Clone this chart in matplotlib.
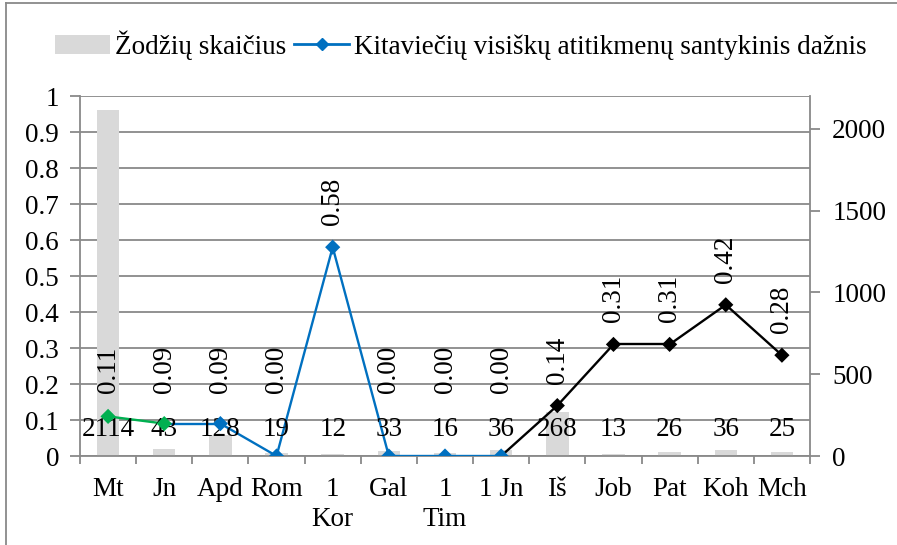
import numpy as np
import matplotlib
matplotlib.use("Agg")
import matplotlib.pyplot as plt
from matplotlib.patches import Patch
from matplotlib.lines import Line2D

plt.rcParams['font.family'] = ['Liberation Serif', 'DejaVu Serif']

knygos = ["Mt", "Jn", "Apd", "Rom", "1\nKor", "Gal", "1\nTim", "1 Jn", "Iš", "Job", "Pat", "Koh", "Mch"]
zodziu_sk = [2114, 43, 128, 19, 12, 33, 16, 36, 268, 13, 26, 36, 25]
daznis = [0.11, 0.09, 0.09, 0.00, 0.58, 0.00, 0.00, 0.00, 0.14, 0.31, 0.31, 0.42, 0.28]
# taško spalva (atkarpa į tašką gauna to taško spalvą)
tasku_spalvos = ["#00B050", "#00B050"] + ["#0070C0"] * 6 + ["black"] * 5

FS = 19.5
GRID = "#898989"

fig = plt.figure(figsize=(8.97, 5.45), dpi=100)
ax = fig.add_axes([80/897, (545-456)/545, 730/897, 360/545])
ax2 = ax.twinx()
ax.set_zorder(ax2.get_zorder() + 1)
ax.patch.set_visible(False)

x = np.arange(len(knygos))

# stulpeliai (dešinė ašis)
ax2.bar(x, zodziu_sk, width=0.4, color="#D9D9D9", zorder=2)
ax2.set_ylim(0, 2200)
ax2.set_yticks(np.arange(0, 2001, 500))

# tinklelis po stulpeliais
kairiosios = np.round(np.arange(0, 1.01, 0.1), 1)
ax2.hlines(kairiosios, 0, 1, transform=ax.get_yaxis_transform(), colors=GRID, lw=1.3, zorder=0)

# linija (kairė ašis)
for i in range(len(x) - 1):
    ax.plot(x[i:i+2], daznis[i:i+2], color=tasku_spalvos[i+1], lw=1.7, zorder=3)
ax.scatter(x, daznis, marker="D", s=60, c=tasku_spalvos, zorder=4, linewidths=0)

ax.set_ylim(0, 1)
ax.set_xlim(-0.5, len(x) - 0.5)
ax.set_yticks(kairiosios)
ax.set_yticklabels(["0" if v == 0 else ("1" if v == 1 else f"{v:g}") for v in kairiosios])

for i, v in enumerate(daznis):
    ax.annotate(f"{v:.2f}", xy=(i, max(v, 0.115)), xytext=(0, 22), textcoords="offset pixels",
                rotation=90, ha="center", va="bottom", fontsize=FS)
for i, n in enumerate(zodziu_sk):
    ax.annotate(str(n), xy=(i, 0), xytext=(0, 26), textcoords="offset pixels",
                ha="center", va="center", fontsize=FS)

ax.set_xticks(x)
ax.set_xticklabels(knygos, fontsize=FS, linespacing=1.25)
ax.set_xticks(np.arange(-0.5, len(x)), minor=True)
ax.tick_params(axis="x", which="major", length=0, pad=15)
ax.tick_params(axis="x", which="minor", length=6, width=1.3, color=GRID, direction="out")
ax.tick_params(axis="y", labelsize=FS, length=7, width=1.3, color=GRID, pad=8)
ax2.tick_params(axis="y", labelsize=FS, length=7, width=1.3, color=GRID, pad=9)

for a in (ax, ax2):
    for s in a.spines.values():
        s.set_visible(False)
for a, side in ((ax, "left"), (ax, "bottom"), (ax2, "right")):
    a.spines[side].set_visible(True)
    a.spines[side].set_color(GRID)
    a.spines[side].set_linewidth(1.3)

handles = [Patch(facecolor="#D9D9D9", edgecolor="none"),
           Line2D([0], [0], color="#0070C0", lw=2, marker="D", markersize=6)]
fig.legend(handles, ["Žodžių skaičius", "Kitaviečių visiškų atitikmenų santykinis dažnis"],
           loc="center", bbox_to_anchor=(0.514, 1 - 45/545), ncol=2, frameon=False,
           fontsize=FS, handlelength=2.0, handletextpad=0.2, columnspacing=0.3)

# rėmelis aplink diagramą
fig.add_artist(Line2D([6/897, 6/897], [0, 1 - 3/545], color=GRID, lw=1.3, transform=fig.transFigure))
fig.add_artist(Line2D([6/897, 1], [1 - 3/545, 1 - 3/545], color=GRID, lw=1.3, transform=fig.transFigure))

fig.savefig("out.png", dpi=100)
